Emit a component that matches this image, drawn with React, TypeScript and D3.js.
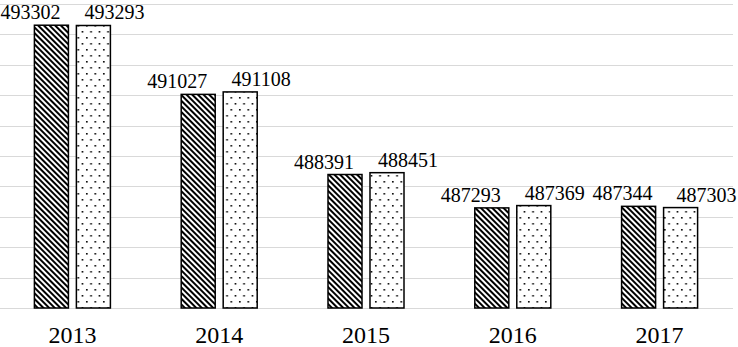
import { useMemo } from 'react';
import * as d3 from 'd3';

const years = ['2013', '2014', '2015', '2016', '2017'];
const seriesA = [493302, 491027, 488391, 487293, 487344];
const seriesB = [493293, 491108, 488451, 487369, 487303];
const yDomain: [number, number] = [484000, 494000];

const W = 738;
const H = 347;
const FONT = 'Liberation Serif, DejaVu Serif, serif';

export default function App() {
  const x = useMemo(() => d3.scaleBand<string>().domain(years).range([-1, 733]).padding(0), []);
  const y = useMemo(() => d3.scaleLinear().domain(yDomain).range([308, 4]), []);
  const inner = useMemo(
    () => d3.scaleBand<number>().domain([0, 1]).range([-38, 38]).paddingInner(0.19),
    [],
  );
  const series = [seriesA, seriesB];
  const fills = ['url(#stripes)', 'url(#dots)'];
  const labelShift = [-21, 21];

  return (
    <svg
      width={W}
      height={H}
      viewBox={`0 0 ${W} ${H}`}
      style={{ position: 'absolute', left: 0, top: 0, background: '#fff', fontFamily: FONT }}
    >
      <defs>
        <pattern id="stripes" width={4} height={4} patternUnits="userSpaceOnUse" patternTransform="rotate(-45)">
          <rect width={4} height={4} fill="#fff" />
          <rect width={2} height={4} fill="#000" />
        </pattern>
        <pattern id="dots" width={8.5} height={12} patternUnits="userSpaceOnUse">
          <rect width={8.5} height={12} fill="#fff" />
          <rect x={1} y={1} width={1.6} height={1.6} fill="#000" />
          <rect x={5.25} y={7} width={1.6} height={1.6} fill="#000" />
        </pattern>
      </defs>
      {y.ticks(10).map((t) => (
        <line key={t} x1={0} x2={733} y1={Math.round(y(t)) + 0.5} y2={Math.round(y(t)) + 0.5} stroke="#d9d9d9" strokeWidth={1} />
      ))}
      {years.map((yr, i) => {
        const cx = (x(yr) ?? 0) + x.bandwidth() / 2;
        // last group's labels sit a little to the right so they clear the neighbour
        const nudge = i === years.length - 1 ? 5 : 0;
        return (
          <g key={yr}>
            {series.map((s, k) => {
              const bx = cx + (inner(k) ?? 0);
              const top = y(s[i]);
              return (
                <g key={k}>
                  <rect
                    x={bx}
                    y={top}
                    width={inner.bandwidth()}
                    height={y(yDomain[0]) - top}
                    fill={fills[k]}
                    stroke="#000"
                    strokeWidth={1.5}
                  />
                  <text
                    x={bx + inner.bandwidth() / 2 + labelShift[k] + nudge}
                    y={top - 6}
                    textAnchor="middle"
                    style={{ fontFamily: FONT, fontSize: 20 }}
                    fill="#000"
                  >
                    {s[i]}
                  </text>
                </g>
              );
            })}
            <text x={cx} y={343} textAnchor="middle" style={{ fontFamily: FONT, fontSize: 24 }} fill="#000">
              {yr}
            </text>
          </g>
        );
      })}
    </svg>
  );
}
